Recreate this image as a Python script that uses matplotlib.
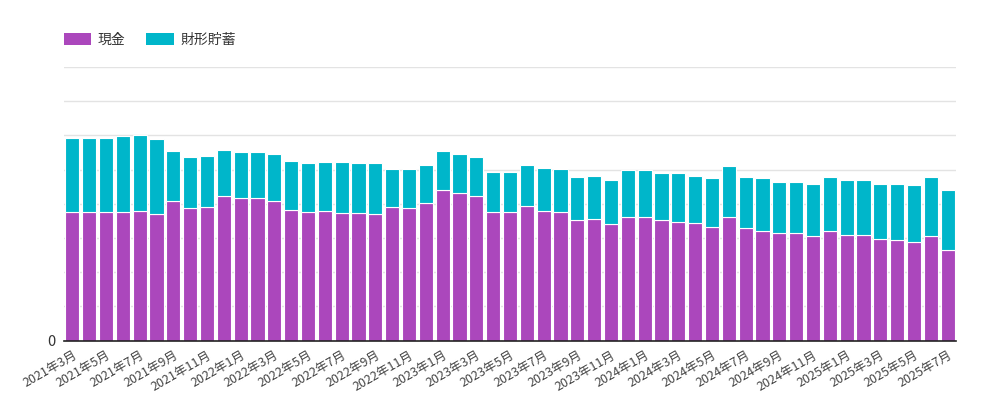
import numpy as np
import matplotlib
matplotlib.use("Agg")
import matplotlib.pyplot as plt
from matplotlib.patches import Patch

plt.rcParams['font.family'] = ['Noto Sans CJK JP', 'DejaVu Sans']

# months 2021年3月 .. 2025年7月
months = []
for y in range(2021, 2026):
    for m in range(1, 13):
        if (y == 2021 and m < 3) or (y == 2025 and m > 7):
            continue
        months.append(f"{y}年{m}月")

# (one gridline = 1 unit)
genkin = [3.75, 3.75, 3.75, 3.75, 3.80, 3.69, 4.08, 3.87, 3.91, 4.23,
          4.16, 4.16, 4.08, 3.83, 3.75, 3.80, 3.72, 3.72, 3.69, 3.91,
          3.87, 4.03, 4.40, 4.32, 4.24, 3.77, 3.77, 3.92, 3.80, 3.77,
          3.52, 3.56, 3.40, 3.60, 3.60, 3.52, 3.48, 3.44, 3.33, 3.60,
          3.28, 3.21, 3.13, 3.13, 3.05, 3.21, 3.09, 3.09, 2.97, 2.93,
          2.89, 3.05, 2.65]
zaikei = [2.18, 2.18, 2.18, 2.22, 2.21, 2.21, 1.46, 1.51, 1.50, 1.34,
          1.34, 1.34, 1.38, 1.43, 1.43, 1.42, 1.50, 1.47, 1.50, 1.11,
          1.16, 1.11, 1.13, 1.13, 1.13, 1.17, 1.17, 1.22, 1.26, 1.26,
          1.26, 1.26, 1.30, 1.39, 1.39, 1.39, 1.43, 1.38, 1.42, 1.50,
          1.50, 1.53, 1.50, 1.50, 1.54, 1.57, 1.61, 1.61, 1.61, 1.65,
          1.65, 1.73, 1.74]

purple = '#ab47bc'
teal = '#00b6ca'

fig = plt.figure(figsize=(9.82, 3.99), dpi=100)
ax = fig.add_axes([64 / 982, (399 - 340.5) / 399, (956 - 64) / 982, (340.5 - 67) / 399])

x = np.arange(len(months))
ax.bar(x, genkin, width=0.84, color=purple, edgecolor='#ffffff', linewidth=0.8, zorder=3)
ax.bar(x, zaikei, bottom=genkin, width=0.84, color=teal, edgecolor='#ffffff', linewidth=0.8, zorder=3)

ax.set_xlim(-0.5, len(months) - 0.5)
ax.set_ylim(0, 8)
ax.set_yticks(np.arange(0, 9, 1))
ax.set_yticklabels(['0'] + [''] * 8)
ax.grid(axis='y', color='#e3e3e3', linewidth=1, zorder=0)
ax.tick_params(axis='y', length=0, labelsize=10.5, labelcolor='#333333', pad=6)

ax.set_xticks(x[::2])
ax.set_xticklabels(months[::2], rotation=30, ha='right', rotation_mode='anchor',
                   fontsize=9, color='#444444')
ax.tick_params(axis='x', length=0, pad=6)

for side in ['top', 'right', 'left']:
    ax.spines[side].set_visible(False)
ax.spines['bottom'].set_color('#222222')
ax.spines['bottom'].set_linewidth(1.2)
ax.spines['bottom'].set_zorder(4)

handles = [Patch(facecolor=purple, label='現金'), Patch(facecolor=teal, label='財形貯蓄')]
fig.legend(handles=handles, loc='upper left', bbox_to_anchor=(51 / 982, 1 - 20 / 399),
           ncol=2, frameon=False, fontsize=10, handlelength=2.0, handleheight=1.0,
           columnspacing=1.5, handletextpad=0.45, labelcolor='#333333')

fig.savefig('out.png', dpi=100, facecolor='white')
